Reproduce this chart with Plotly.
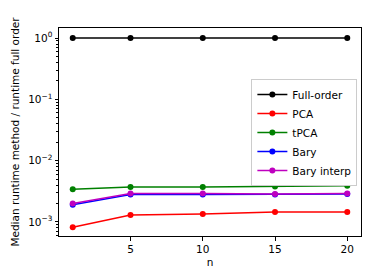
import plotly.graph_objects as go

n = [1, 5, 10, 15, 20]
full_order = [1.0, 1.0, 1.0, 1.0, 1.0]
pca = [8.2e-4, 1.3e-3, 1.35e-3, 1.45e-3, 1.45e-3]
tpca = [3.4e-3, 3.7e-3, 3.7e-3, 3.8e-3, 3.9e-3]
bary = [1.9e-3, 2.8e-3, 2.8e-3, 2.8e-3, 2.85e-3]
bary_interp = [2.0e-3, 2.9e-3, 2.9e-3, 2.85e-3, 2.9e-3]

series = [
    ("Full-order", full_order, "#000000"),
    ("PCA", pca, "#ff0000"),
    ("tPCA", tpca, "#008000"),
    ("Bary", bary, "#0000ff"),
    ("Bary interp", bary_interp, "#bf00bf"),
]

ytickvals = [1e-3, 1e-2, 1e-1, 1e0]
yticktext = ["10<sup>\u22123</sup>", "10<sup>\u22122</sup>", "10<sup>\u22121</sup>", "10<sup>0</sup>"]
xtickvals = [5, 10, 15, 20]

fig = go.Figure()
for name, vals, col in series:
    fig.add_trace(go.Scatter(x=n, y=vals, name=name, mode="lines+markers",
                             line=dict(color=col, width=1.5),
                             marker=dict(color=col, size=6)))

font = dict(family="DejaVu Sans", size=10.5, color="black")
fig.update_layout(
    width=374, height=280,
    margin=dict(l=51, r=21, t=20, b=52),
    paper_bgcolor="white", plot_bgcolor="white",
    font=font,
    showlegend=True,
    legend=dict(x=0.637, y=0.755, xanchor="left", yanchor="top",
                bgcolor="white", bordercolor="#cccccc", borderwidth=1,
                font=font, tracegroupgap=0, itemwidth=30),
    xaxis=dict(range=[0.05, 20.95], tickvals=xtickvals, showgrid=False, zeroline=False,
               automargin=False,
               showline=True, linecolor="black", linewidth=1, mirror=True,
               ticks="outside", ticklen=3.5, tickcolor="black",
               title=dict(text="n", font=font, standoff=4)),
    yaxis=dict(type="log", range=[-3.23, 0.165], tickvals=ytickvals, ticktext=yticktext,
               showgrid=False, zeroline=False, automargin=False,
               showline=True, linecolor="black", linewidth=1, mirror=True,
               ticks="outside", ticklen=3.5, tickcolor="black",
               minor=dict(ticks="outside", ticklen=2, tickcolor="black", dtick="D1", showgrid=False),
               title=dict(text="Median runtime method / runtime full order", font=font, standoff=6)),
)

fig.write_html("out.html")
